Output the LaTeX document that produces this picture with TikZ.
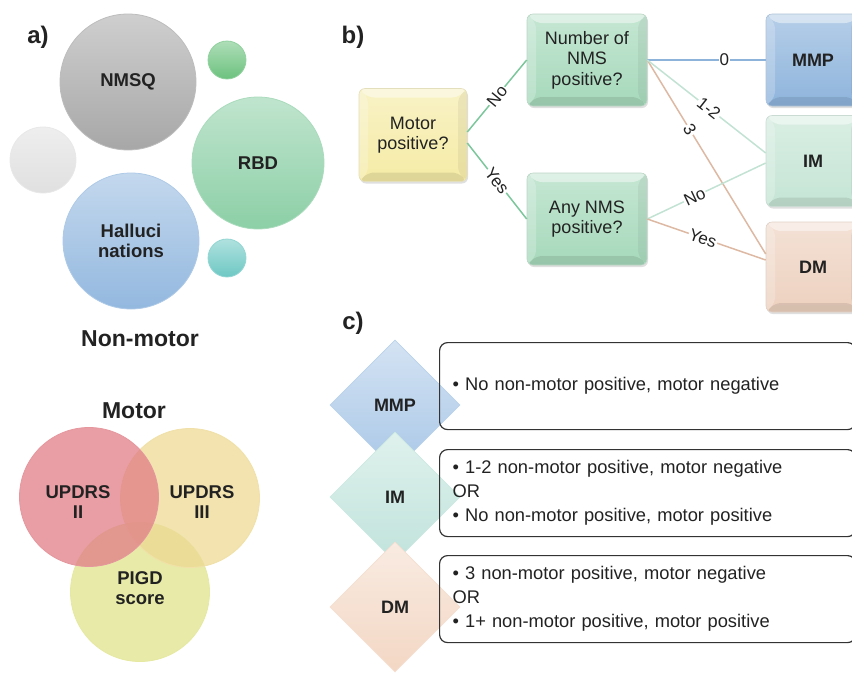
\documentclass[tikz,border=0pt]{standalone}
\usepackage{fontspec}
\setmainfont{Liberation Sans}
\usetikzlibrary{shapes.geometric,shadows}
\definecolor{cNmsq}{HTML}{A8A7A7}
\definecolor{cSgreen}{HTML}{6CC27E}
\definecolor{cRbd}{HTML}{8CCFA6}
\definecolor{cLgray}{HTML}{E0E0E0}
\definecolor{cHallu}{HTML}{93B8DF}
\definecolor{cTeal}{HTML}{6EC8C4}
\definecolor{cRed}{HTML}{E07D86}
\definecolor{cYel}{HTML}{EDD994}
\definecolor{cLime}{HTML}{E0E38A}
\definecolor{cMot}{HTML}{F5EBA6}
\definecolor{cNum}{HTML}{A6D9BB}
\definecolor{cMMP}{HTML}{8EB4DC}
\definecolor{cIM}{HTML}{C5E5D5}
\definecolor{cDM}{HTML}{EDD1BF}
\definecolor{dMMP}{HTML}{A9C7E7}
\definecolor{dIM}{HTML}{C0E3DB}
\definecolor{dDM}{HTML}{F3D7C4}
\definecolor{lGreen}{HTML}{7CC69C}
\definecolor{lBlue}{HTML}{8DB3DA}
\definecolor{lPale}{HTML}{C2E2D3}
\definecolor{lTan}{HTML}{DDB9A3}
\definecolor{cText}{HTML}{222222}
\begin{document}
\begin{tikzpicture}[x=1pt,y=-1pt,
  lab/.style={font=\fontsize{24}{28}\selectfont\bfseries, text=cText},
  big/.style={font=\fontsize{23}{27}\selectfont\bfseries, text=cText},
  ball/.style={circle, inner sep=0, top color=#1!55!white, bottom color=#1, draw=#1!75!white, line width=0.8,
     font=\fontsize{18.5}{20}\selectfont\bfseries, text=cText, align=center},
  venn/.style={circle, inner sep=0, minimum size=139, fill=#1, fill opacity=0.75, draw=#1!80!white, line width=0.8},
  vtext/.style={font=\fontsize{18.5}{20}\selectfont\bfseries, text=cText, align=center},
  bevel/.style={path picture={
     \fill[white,opacity=.45] (path picture bounding box.north west) -- (path picture bounding box.north east)
        -- ([xshift=-9pt,yshift=-9pt]path picture bounding box.north east) -- ([xshift=9pt,yshift=-9pt]path picture bounding box.north west) -- cycle;
     \fill[white,opacity=.22] (path picture bounding box.north west) -- ([xshift=9pt,yshift=-9pt]path picture bounding box.north west)
        -- ([xshift=9pt,yshift=9pt]path picture bounding box.south west) -- (path picture bounding box.south west) -- cycle;
     \fill[black,opacity=.05] (path picture bounding box.north east) -- (path picture bounding box.south east)
        -- ([xshift=-9pt,yshift=9pt]path picture bounding box.south east) -- ([xshift=-9pt,yshift=-9pt]path picture bounding box.north east) -- cycle;
     \fill[black,opacity=.09] (path picture bounding box.south west) -- (path picture bounding box.south east)
        -- ([xshift=-9pt,yshift=9pt]path picture bounding box.south east) -- ([xshift=9pt,yshift=9pt]path picture bounding box.south west) -- cycle;
  }},
  qbox/.style={rectangle, rounded corners=6, top color=#1!65!white, bottom color=#1, draw=#1!85!black!60!white, line width=0.6,
     bevel, drop shadow={opacity=0.25,shadow xshift=1pt,shadow yshift=-2pt},
     font=\fontsize{18}{20.5}\selectfont, text=cText, align=center, inner sep=2},
  obox/.style={qbox=#1, font=\fontsize{18}{20.5}\selectfont\bfseries},
  dia/.style={diamond, minimum size=130, inner sep=0, top color=#1!50!white, bottom color=#1, draw=#1!80!white, line width=0.6,
     font=\fontsize{18}{20}\selectfont\bfseries, text=cText},
  tbox/.style={rectangle, rounded corners=8, draw=black!80, line width=1.2, anchor=north west,
     text width=390, inner xsep=13, minimum height=87, align=left,
     font=\fontsize{18.3}{24}\selectfont, text=cText},
  ew/.style={line width=1.5},
  elab/.style={fill=white, inner sep=1, sloped, font=\fontsize{17}{20}\selectfont, text=cText}
]
\useasboundingbox (0,0) rectangle (852,673);

% ---------- panel a ----------
\node[lab] (la) at (38,37) {a)};
\node[ball=cNmsq, minimum size=136] (nmsq) at (128,82) {NMSQ};
\node[ball=cSgreen, minimum size=38] (sg) at (227,60) {};
\node[ball=cRbd, minimum size=132] (rbd) at (258,163) {RBD};
\node[ball=cLgray, minimum size=66] (lg) at (43,160) {};
\node[ball=cHallu, minimum size=136] (hal) at (131,241) {Halluci\\nations};
\node[ball=cTeal, minimum size=38] (tl) at (227,258) {};
\node[big] (nonmotor) at (140,339) {Non-motor};
\node[big] (motor) at (134,411) {Motor};

\node[venn=cLime] (pigd) at (140,592) {};
\node[venn=cYel] (u3) at (190,498) {};
\node[venn=cRed] (u2) at (89,497) {};
\node[vtext] (tu2) at (78,502) {UPDRS\\II};
\node[vtext] (tu3) at (202,502) {UPDRS\\III};
\node[vtext] (tpigd) at (140,588) {PIGD\\score};

% ---------- panel b ----------
\node[lab] (lb) at (353,37) {b)};
\node[qbox=cMot, minimum width=108, minimum height=93] (mot) at (413,135) {Motor\\positive?};
\node[qbox=cNum, minimum width=120, minimum height=92] (num) at (587,60) {Number of\\NMS\\positive?};
\node[qbox=cNum, minimum width=120, minimum height=92] (any) at (587,219) {Any NMS\\positive?};
\node[obox=cMMP, minimum width=94, minimum height=92] (mmp) at (813,60) {MMP};
\node[obox=cIM, minimum width=94, minimum height=91] (im) at (813,161) {IM};
\node[obox=cDM, minimum width=94, minimum height=90] (dm) at (813,267) {DM};

\draw[ew, lGreen] ([yshift=3pt]mot.east) -- node[elab] {No} (num.west);
\draw[ew, lGreen] ([yshift=-8pt]mot.east) -- node[elab] {Yes} (any.west);
\draw[ew, lBlue] (num.east) -- node[elab, pos=0.65] {0} (mmp.west);
\draw[ew, lTan] (num.east) -- node[elab, pos=0.36] {3} ([yshift=13pt]dm.west);
\draw[ew, lPale] (num.east) -- node[elab, pos=0.52] {1-2} ([yshift=8pt]im.west);
\draw[ew, lPale] (any.east) -- node[elab, pos=0.4] {No} ([yshift=-2pt]im.west);
\draw[ew, lTan] (any.east) -- node[elab, pos=0.47] {Yes} ([yshift=7pt]dm.west);

% ---------- panel c ----------
\node[lab] (lc) at (353,323) {c)};
\node[dia=dMMP] (dmmp) at (395,405) {MMP};
\node[dia=dIM] (dim) at (395,497) {IM};
\node[dia=dDM] (ddm) at (395,607) {DM};
\node[tbox] (tmmp) at (439,342) {\textbullet\ No non-motor positive, motor negative};
\node[tbox] (tim) at (439,449) {\textbullet\ 1-2 non-motor positive, motor negative\\OR\\\textbullet\ No non-motor positive, motor positive};
\node[tbox] (tdm) at (439,555) {\textbullet\ 3 non-motor positive, motor negative\\OR\\\textbullet\ 1+ non-motor positive, motor positive};
\end{tikzpicture}
\end{document}
